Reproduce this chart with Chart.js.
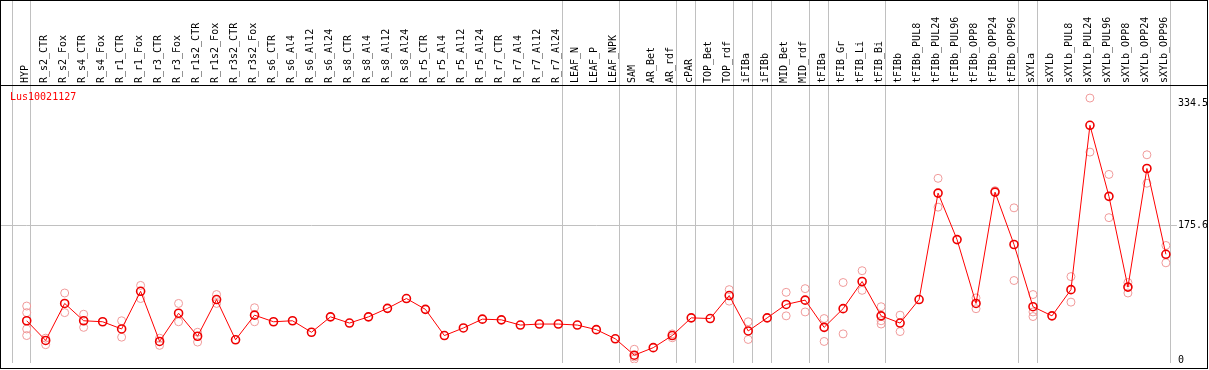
<!DOCTYPE html>
<html>
<head>
<meta charset="utf-8">
<script src="https://cdn.jsdelivr.net/npm/chart.js@4/dist/chart.umd.min.js"></script>
<style>
  html, body { margin: 0; padding: 0; background: #fff; }
  canvas { display: block; }
</style>
</head>
<body>
<canvas id="chart" width="1209" height="370"></canvas>
<script>
var geneName = "Lus10021127";

var samples = ["HYP",
  "R_s2_CTR", "R_s2_Fox", "R_s4_CTR", "R_s4_Fox", "R_r1_CTR", "R_r1_Fox",
  "R_r3_CTR", "R_r3_Fox", "R_r1s2_CTR", "R_r1s2_Fox", "R_r3s2_CTR", "R_r3s2_Fox",
  "R_s6_CTR", "R_s6_Al4", "R_s6_Al12", "R_s6_Al24",
  "R_s8_CTR", "R_s8_Al4", "R_s8_Al12", "R_s8_Al24",
  "R_r5_CTR", "R_r5_Al4", "R_r5_Al12", "R_r5_Al24",
  "R_r7_CTR", "R_r7_Al4", "R_r7_Al12", "R_r7_Al24",
  "LEAF_N", "LEAF_P", "LEAF_NPK", "SAM", "AR_Bet", "AR_rdf", "cPAR",
  "TOP_Bet", "TOP_rdf", "iFIBa", "iFIBb", "MID_Bet", "MID_rdf",
  "tFIBa", "tFIB_Gr", "tFIB_Li", "tFIB_Bi", "tFIBb",
  "tFIBb_PUL8", "tFIBb_PUL24", "tFIBb_PUL96", "tFIBb_OPP8", "tFIBb_OPP24", "tFIBb_OPP96",
  "sXYLa", "sXYLb",
  "sXYLb_PUL8", "sXYLb_PUL24", "sXYLb_PUL96", "sXYLb_OPP8", "sXYLb_OPP24", "sXYLb_OPP96"];

// mean expression per sample
var means = [51.3,
  25.6, 73.9, 51.3, 50.0, 40.6, 89.7,
  24.3, 61.1, 31.1, 79.0, 26.5, 58.6,
  50.0, 51.3, 36.3, 56.4,
  48.3, 56.4, 67.5, 80.3,
  66.2, 32.0, 41.9, 53.4,
  52.5, 45.7, 47.0, 47.0,
  45.7, 39.7, 27.8, 6.4, 16.2, 32.0, 55.1,
  54.2, 84.2, 38.0, 55.1, 72.6, 78.2,
  42.7, 67.1, 102.5, 57.7, 48.3,
  79.0, 217.8, 157.2, 73.9, 219.1, 150.8,
  69.6, 57.7,
  91.9, 306.3, 213.6, 95.2, 249.9, 138.0];

// individual replicates per sample
var replicates = [[70.5, 61.9, 40.6, 32.0],
  [28.6, 20.1], [87.5, 61.9], [59.8, 42.7], [], [51.3, 29.9], [97.4, 80.3],
  [28.6, 19.2], [73.9, 50.0], [36.3, 23.5], [85.5, 73.9], [], [68.3, 50.0],
  [], [], [], [],
  [], [], [], [],
  [], [], [], [],
  [], [], [], [],
  [], [], [], [14.1, 4.0, 1.3], [], [34.2, 29.1], [],
  [], [91.9, 76.9], [50.0, 26.9], [], [88.4, 57.7], [93.2, 62.8],
  [54.2, 24.3], [101.2, 34.2], [116.6, 91.0], [69.6, 51.3, 47.0], [58.6, 37.2],
  [], [237.1, 199.5], [], [81.1, 67.0], [221.0], [198.6, 103.8],
  [85.5, 62.8, 56.8], [],
  [108.9, 75.6], [341.8, 271.3], [242.2, 185.8], [101.2, 87.5], [267.8, 230.7], [149.5, 126.9]];

var yTicks = [0, 175.6, 334.5];
var midLine = 175.6;

// group separators drawn after these sample indices (-1 = before first)
var groupEnds = [-1, 0, 28, 31, 34, 35, 37, 38, 39, 41, 42, 45, 52, 53, 60];

var repPoints = [];
replicates.forEach(function (list, i) {
  list.forEach(function (v) {
    repPoints.push({x: samples[i], y: v});
  });
});

Chart.defaults.font.family = "'DejaVu Sans Mono', monospace";
Chart.defaults.font.size = 10;
Chart.defaults.color = '#000';

var groupLines = {
  id: 'groupLines',
  beforeDatasetsDraw: function (chart) {
    var ctx = chart.ctx, xs = chart.scales.x, ys = chart.scales.y, area = chart.chartArea;
    ctx.save();
    ctx.strokeStyle = '#c0c0c0';
    ctx.lineWidth = 1;
    groupEnds.forEach(function (i) {
      var x = Math.round(xs.getPixelForValue(i + 0.2)) + 0.5;
      ctx.beginPath();
      ctx.moveTo(x, 1);
      ctx.lineTo(x, area.bottom);
      ctx.stroke();
    });
    // carry the mid grid line to the left frame
    var y = Math.round(ys.getPixelForValue(midLine)) + 0.5;
    ctx.beginPath();
    ctx.moveTo(1, y);
    ctx.lineTo(area.left, y);
    ctx.stroke();
    ctx.restore();
  }
};

var frame = {
  id: 'frame',
  afterDraw: function (chart) {
    var ctx = chart.ctx, area = chart.chartArea;
    ctx.save();
    ctx.strokeStyle = '#000';
    ctx.lineWidth = 1;
    ctx.strokeRect(0.5, 0.5, 1207, 368);
    ctx.beginPath();
    ctx.moveTo(0, area.top + 0.5);
    ctx.lineTo(1208, area.top + 0.5);
    ctx.stroke();
    ctx.fillStyle = '#ff0000';
    ctx.font = "10px 'DejaVu Sans Mono', monospace";
    ctx.textBaseline = 'middle';
    ctx.fillText(geneName, 10, area.top + 12);
    ctx.restore();
  }
};

new Chart(document.getElementById('chart'), {
  type: 'line',
  data: {
    labels: samples,
    datasets: [
      {
        label: 'mean',
        data: means,
        borderColor: '#ff0000',
        borderWidth: 1,
        pointRadius: 4,
        pointBorderWidth: 1.6,
        pointBorderColor: '#ee0000',
        pointBackgroundColor: 'rgba(0,0,0,0)',
        tension: 0,
        fill: false
      },
      {
        label: 'replicates',
        data: repPoints,
        showLine: false,
        pointRadius: 4,
        pointBorderWidth: 1,
        pointBorderColor: '#f09a9a',
        pointBackgroundColor: 'rgba(0,0,0,0)'
      }
    ]
  },
  options: {
    responsive: false,
    animation: false,
    devicePixelRatio: 1,
    layout: { padding: { left: 26.7, right: 0, top: 14.8, bottom: 2 } },
    plugins: {
      legend: { display: false },
      tooltip: { enabled: false }
    },
    scales: {
      x: {
        type: 'category',
        position: 'top',
        offset: false,
        grid: { display: false, drawTicks: false },
        border: { display: false },
        ticks: {
          autoSkip: false,
          minRotation: 90,
          maxRotation: 90,
          padding: 2,
          labelOffset: 10.5,
          color: '#000'
        }
      },
      y: {
        position: 'right',
        min: -3.8,
        max: 358.8,
        afterBuildTicks: function (axis) {
          axis.ticks = yTicks.map(function (v) { return {value: v}; });
        },
        grid: {
          drawTicks: true,
          tickLength: 11,
          color: function (c) {
            return c.tick && c.tick.value === midLine ? '#c0c0c0' : 'rgba(0,0,0,0)';
          }
        },
        border: { display: false },
        ticks: {
          padding: 1,
          color: '#000',
          callback: function (v) { return String(v); }
        }
      }
    }
  },
  plugins: [groupLines, frame]
});
</script>
</body>
</html>
